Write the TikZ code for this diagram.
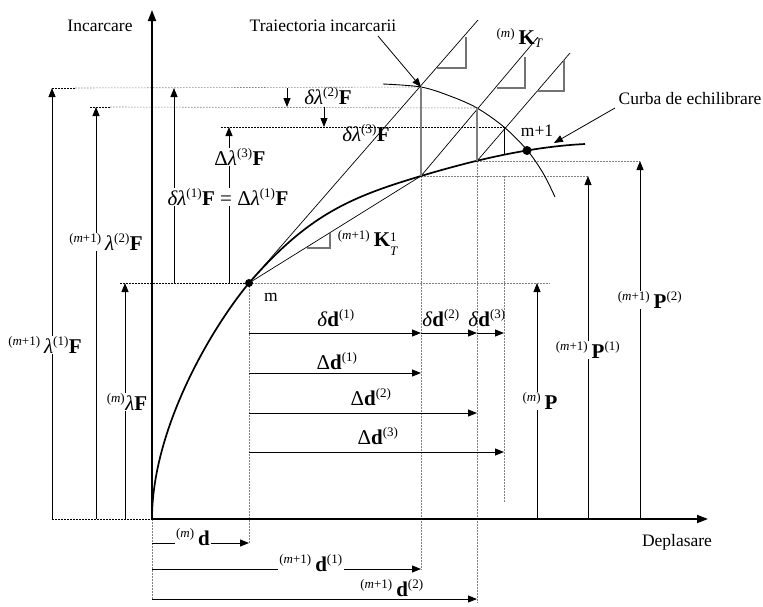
\documentclass[tikz,border=0pt]{standalone}
\usepackage{fontspec}
\setmainfont{Liberation Serif}
\usetikzlibrary{arrows.meta}
\newcommand{\supsz}{\fontsize{13}{13}\selectfont}
\newcommand{\mm}{\textsuperscript{\supsz(\textit{m})}}
\newcommand{\mmp}{\textsuperscript{\supsz(\textit{m}+1)}}
\newcommand{\pp}[1]{\textsuperscript{\supsz(#1)}}
\tikzset{
  ax/.style={line width=1.8pt, -{Triangle[length=11pt,width=8pt]}},
  tl/.style={line width=0.7pt},
  arr/.style={line width=0.8pt, -{Triangle[length=9pt,width=7pt]}},
  darr/.style={line width=1pt, -{Triangle[length=9pt,width=7pt]}},
  gdot/.style={gray, line width=0.6pt, dash pattern=on 1.5pt off 1.5pt},
  bdot/.style={black, line width=0.9pt, dash pattern=on 2pt off 1pt},
  glin/.style={gray, line width=1.4pt},
  gtri/.style={gray!90!black, line width=1.1pt},
  lab/.style={font=\fontsize{21}{23}\selectfont, inner sep=1pt},
  wlab/.style={lab, fill=white},
  txt/.style={font=\fontsize{17.5}{19}\selectfont, inner sep=0pt},
  dotn/.style={circle, fill=black, inner sep=0pt, minimum size=#1},
}
\begin{document}
\begin{tikzpicture}[x=1pt,y=-1pt]
\useasboundingbox (0,0) rectangle (763,606);
% key coordinates
\coordinate (O) at (152,519);
\coordinate (Ytop) at (152,10);
\coordinate (Xend) at (708,519);
\coordinate (M) at (249,283);
\coordinate (A1) at (421,87);
\coordinate (B1) at (421,176);
\coordinate (A2) at (477,108);
\coordinate (B2) at (477,161);
\coordinate (A3) at (504,127);
\coordinate (B3) at (504,155);
\coordinate (M1) at (527,150.5);
\coordinate (Cend) at (585,144);
\coordinate (T1) at (478,20);
\coordinate (T2) at (538,37);
\coordinate (T3) at (570,53);

% dotted helper lines
\coordinate (h88a) at (52,88);  \coordinate (h88b) at (75,88);
\coordinate (h107a) at (90,107); \coordinate (h107b) at (110,107);
\coordinate (h127a) at (221,127);
\coordinate (h283a) at (120,283); \coordinate (h283b) at (550,283);
\coordinate (h519a) at (52,519);
\coordinate (h176b) at (588,176);
\coordinate (h160b) at (640,161);
\draw[bdot] (h88a) -- (h88b);
\draw[gdot] (h88b) -- (A1);
\draw[bdot] (h107a) -- (h107b);
\draw[gdot] (h107b) -- (A2);
\draw[bdot] (h127a) -- (A3);
\draw[bdot] (h283a) -- (M);
\draw[gdot] (M) -- (h283b);
\draw[bdot] (h519a) -- (O);
\draw[gdot] (B1) -- (h176b);
\draw[gdot] (B2) -- (h160b);
\coordinate (v249b) at (249,543);
\coordinate (v421b) at (421,570);
\coordinate (v477b) at (477,603);
\coordinate (v504a) at (504,176);
\coordinate (v504b) at (504,503);
\coordinate (v152b) at (152,600);
\draw[gdot] (M) -- (v249b);
\draw[gdot] (B1) -- (v421b);
\draw[gdot] (B2) -- (v477b);
\draw[gdot] (v504a) -- (v504b);
\draw[gdot] (O) -- (v152b);

% axes
\draw[ax] (O) -- (Ytop);
\draw[ax] (O) -- (Xend);
\node[txt] (inc) at (100,26) {Incarcare};
\node[txt] (dep) at (677,542) {Deplasare};

% equilibrium curve
\draw[line width=1.7pt] (O) .. controls (152,430) and (210,330) .. (M)
  .. controls (309,214) and (351,197) .. (B1)
  .. controls (481,158) and (535,146.5) .. (Cend);
% trajectory arc
\draw[line width=0.9pt] plot[smooth, tension=0.55] coordinates {(383,84) (421,87) (450,96) (477,108) (504,127) (527,150) (543,173) (555,197)};

% tangent / secant lines
\draw[tl] (M) -- (T1);
\draw[tl] (B1) -- (T2);
\draw[tl] (B2) -- (T3);
\draw[tl] (M) -- (B1);
\draw[glin] (A1) -- (B1);
\draw[glin] (A2) -- (B2);
\draw[line width=0.9pt] (A3) -- (B3);
% slope triangles
\draw[gtri] (437,68) -- (466,68) -- (466,37);
\draw[gtri] (497,88) -- (525,88) -- (525,57);
\draw[gtri] (537,91) -- (564,91) -- (564,60);
\draw[gtri] (307,248) -- (330,248) -- (330,233);

% dots
\node[dotn=8pt] (mdot) at (M) {};
\node[dotn=9pt] (m1dot) at (M1) {};

% leaders
\node[txt] (trj) at (323,26) {Traiectoria incarcarii};
\coordinate (trjs) at (378,36);
\draw[arr] (trjs) -- (A1);
\node[txt] (crb) at (690,99) {Curba de echilibrare};
\coordinate (crbs) at (615,108);
\coordinate (crbe) at (554,143);
\draw[arr] (crbs) -- (crbe);

% left vertical arrows
\coordinate (L1a) at (52,519); \coordinate (L1b) at (52,88);
\coordinate (L2a) at (96,519); \coordinate (L2b) at (96,107);
\coordinate (L3a) at (125,519); \coordinate (L3b) at (125,283);
\coordinate (L4a) at (174,283); \coordinate (L4b) at (174,88);
\coordinate (L5a) at (229,283); \coordinate (L5b) at (229,127);
\draw[arr] (L1a) -- (L1b);
\draw[arr] (L2a) -- (L2b);
\draw[arr] (L3a) -- (L3b);
\draw[arr] (L4a) -- (L4b);
\draw[arr] (L5a) -- (L5b);
% small delta lambda arrows
\coordinate (s2a) at (287,88); \coordinate (s2b) at (287,107);
\coordinate (s3a) at (324,107); \coordinate (s3b) at (324,127);
\draw[arr] (s2a) -- (s2b);
\draw[arr] (s3a) -- (s3b);

% right vertical arrows
\coordinate (R1a) at (537,519); \coordinate (R1b) at (537,283);
\coordinate (R2a) at (588,519); \coordinate (R2b) at (588,176);
\coordinate (R3a) at (640,519); \coordinate (R3b) at (640,161);
\draw[arr] (R1a) -- (R1b);
\draw[arr] (R2a) -- (R2b);
\draw[arr] (R3a) -- (R3b);

% horizontal displacement arrows
\coordinate (d1a) at (249,333); \coordinate (d1b) at (421,333);
\coordinate (d2b) at (477,333); \coordinate (d3b) at (504,333);
\draw[darr] (d1a) -- (d1b);
\draw[darr] (d1b) -- (d2b);
\draw[darr] (d2b) -- (d3b);
\coordinate (D1a) at (249,373); \coordinate (D1b) at (421,373);
\coordinate (D2a) at (249,413); \coordinate (D2b) at (477,413);
\coordinate (D3a) at (249,452); \coordinate (D3b) at (504,452);
\draw[darr] (D1a) -- (D1b);
\draw[darr] (D2a) -- (D2b);
\draw[darr] (D3a) -- (D3b);
\coordinate (md0) at (152,543); \coordinate (md1) at (249,543);
\coordinate (n1a) at (152,569); \coordinate (n1b) at (421,569);
\coordinate (n2a) at (152,599); \coordinate (n2b) at (477,599);
\draw[darr] (md0) -- (md1);
\draw[darr] (n1a) -- (n1b);
\draw[darr] (n2a) -- (n2b);

% labels
\node[txt] (ml) at (271,297) {m};
\node[txt] (m1l) at (537,131) {m+1};
\node[lab] (kt) at (520,38) {\mm\,\textbf{K}\textsubscript{\supsz\textit{T}}};
\node[lab] (kt1) at (368,243) {\mmp\,\textbf{K}\raisebox{-0.42em}{\supsz\shortstack[l]{1\\[3pt]\textit{T}}}};
\node[lab] (dl2) at (328,96) {\textit{δλ}\pp{2}\textbf{F}};
\node[lab] (dl3) at (366,133) {\textit{δλ}\pp{3}\textbf{F}};
\node[wlab] (Dl3) at (240,157) {Δ\textit{λ}\pp{3}\textbf{F}};
\node[wlab] (dl1) at (228,197) {\textit{δλ}\pp{1}\textbf{F} = Δ\textit{λ}\pp{1}\textbf{F}};
\node[wlab] (lam2) at (106,242) {\mmp\,\textit{λ}\pp{2}\textbf{F}};
\node[wlab] (lam1) at (45,345) {\mmp\,\textit{λ}\pp{1}\textbf{F}};
\node[wlab] (lamm) at (127,402) {\mm\textit{λ}\textbf{F}};
\node[lab] (dd1) at (336,318) {\textit{δ}\textbf{d}\pp{1}};
\node[lab] (dd2) at (441,318) {\textit{δ}\textbf{d}\pp{2}};
\node[lab] (dd3) at (487,318) {\textit{δ}\textbf{d}\pp{3}};
\node[lab] (Dd1) at (337,361) {Δ\textbf{d}\pp{1}};
\node[lab] (Dd2) at (371,397) {Δ\textbf{d}\pp{2}};
\node[lab] (Dd3) at (378,436) {Δ\textbf{d}\pp{3}};
\node[wlab] (Pm) at (540,401) {\mm\,\textbf{P}};
\node[wlab] (P1) at (588,350) {\mmp\,\textbf{P}\pp{1}};
\node[wlab] (P2) at (650,300) {\mmp\,\textbf{P}\pp{2}};
\node[wlab] (dm) at (193,537) {\mm\,\textbf{d}};
\node[wlab] (dn1) at (311,563) {\mmp\,\textbf{d}\pp{1}};
\node[wlab] (dn2) at (392,588) {\mmp\,\textbf{d}\pp{2}};
\end{tikzpicture}
\end{document}
